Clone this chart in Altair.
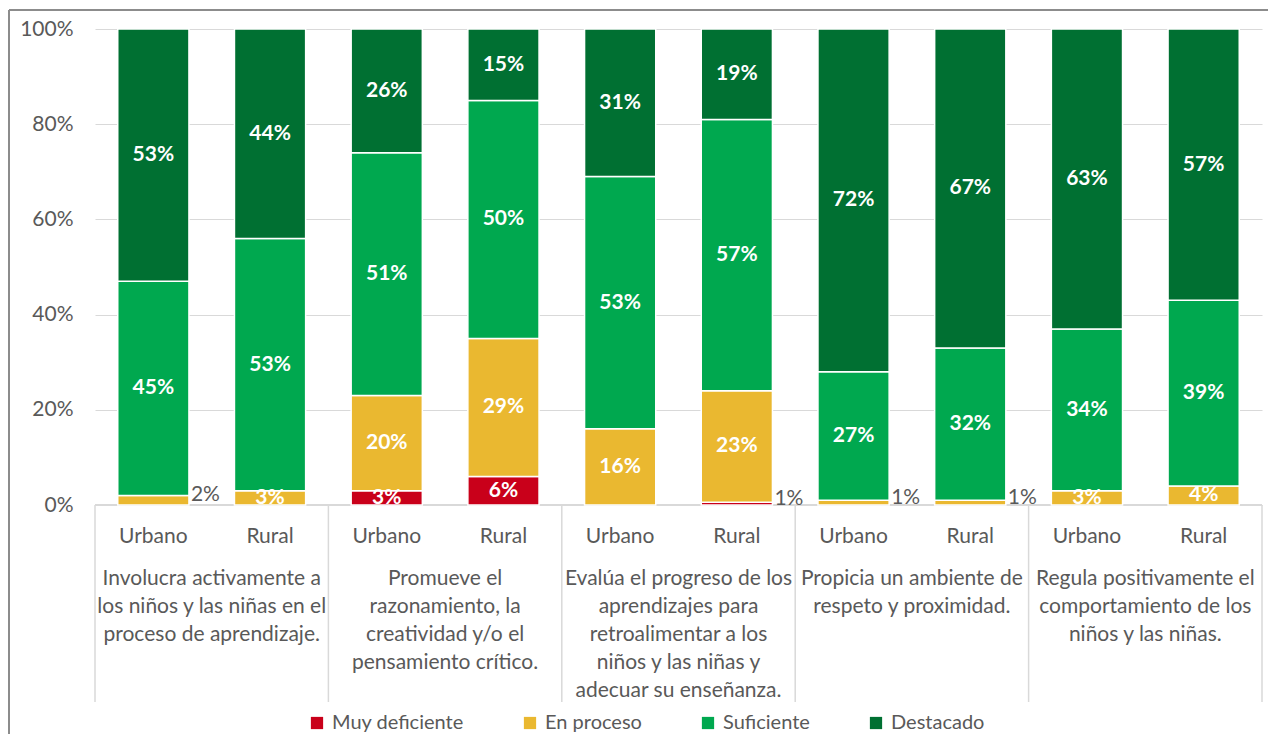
import altair as alt
import pandas as pd

# ---- data ----
group_labels = [
    ["Involucra activamente a", "los niños y las niñas en el", "proceso de aprendizaje."],
    ["Promueve el", "razonamiento, la", "creatividad y/o el", "pensamiento crítico."],
    ["Evalúa el progreso de los", "aprendizajes para", "retroalimentar a los", "niños y las niñas y", "adecuar su enseñanza."],
    ["Propicia un ambiente de", "respeto y proximidad."],
    ["Regula positivamente el", "comportamiento de los", "niños y las niñas."],
]
areas = ["Urbano", "Rural"]
series = ["Muy deficiente", "En proceso", "Suficiente", "Destacado"]
colors = ["#C9001A", "#EAB830", "#00A84F", "#007032"]

# one value per bar (Urbano, Rural for each group)
muy_deficiente = [0, 0, 3, 6, 0, 0.6, 0, 0, 0, 0]
en_proceso = [2, 3, 20, 29, 16, 23.4, 1, 1, 3, 4]
suficiente = [45, 53, 51, 50, 53, 57, 27, 32, 34, 39]
destacado = [53, 44, 26, 15, 31, 19, 72, 67, 63, 57]

values = [muy_deficiente, en_proceso, suficiente, destacado]

# ---- build tables ----
half_bar = 0.305
rows = []
cat_rows = []
for b in range(10):
    g, a = divmod(b, 2)
    center = b + 0.5
    cat_rows.append({"xc": center, "area": areas[a]})
    cum = 0.0
    for s, name in enumerate(series):
        v = values[s][b]
        if v <= 0:
            continue
        rows.append({
            "bar": b, "serie": name, "order": s, "v": v,
            "x0": center - half_bar, "x1": center + half_bar, "xc": center,
            "y0": cum, "y1": cum + v, "ym": cum + v / 2,
            "label": f"{round(v + 1e-9)}%",
            "inside": 1 if v >= 2.5 else 0,
        })
        cum += v
df = pd.DataFrame(rows)
cats = pd.DataFrame(cat_rows)
grp = pd.DataFrame({"xg": [2 * g + 1 for g in range(5)],
                    "txt": ["\n".join(l) for l in group_labels]})
divs = pd.DataFrame({"xd": [0, 2, 4, 6, 8, 10]})

W, H = 1167, 476
FONT = "Lato"
FS = 21
GRAY = "#595959"

xs = alt.Scale(domain=[0, 10], nice=False, zero=False)
ys = alt.Scale(domain=[0, 100], nice=False)
yaxis = alt.Axis(values=[0, 20, 40, 60, 80, 100], labelExpr="datum.value + '%'", title=None,
                 grid=True, gridColor="#D9D9D9", gridWidth=1.2, domain=False, ticks=False,
                 labelFont=FONT, labelFontSize=FS, labelColor=GRAY, labelPadding=22)

base = alt.Chart(df)

bars = base.mark_bar(stroke="white", strokeWidth=1.5).encode(
    x=alt.X("x0:Q", scale=xs, axis=None),
    x2="x1:Q",
    y=alt.Y("y0:Q", scale=ys, axis=yaxis),
    y2="y1:Q",
    color=alt.Color("serie:N", scale=alt.Scale(domain=series, range=colors),
                    legend=alt.Legend(title=None, orient="none", direction="horizontal",
                                      legendX=212, legendY=684, symbolType="square",
                                      symbolSize=150, symbolStrokeWidth=0,
                                      labelFont=FONT, labelFontSize=20, labelColor=GRAY,
                                      columnPadding=56, labelOffset=5)),
)

txt_in = base.transform_filter("datum.inside == 1").mark_text(
    color="white", fontWeight="bold", font=FONT, fontSize=FS, baseline="middle"
).encode(x=alt.X("xc:Q", scale=xs, axis=None), y=alt.Y("ym:Q", scale=ys, axis=yaxis),
         text="label:N")

txt_out = base.transform_filter("datum.inside == 0").mark_text(
    color=GRAY, font=FONT, fontSize=FS, align="left", baseline="middle", dx=2, dy=-5
).encode(x=alt.X("x1:Q", scale=xs, axis=None), y=alt.Y("ym:Q", scale=ys, axis=yaxis),
         text="label:N")

cat_txt = alt.Chart(cats).mark_text(
    color=GRAY, font=FONT, fontSize=FS, baseline="middle"
).encode(x=alt.X("xc:Q", scale=xs, axis=None), y=alt.value(H + 32), text="area:N")

grp_txt = alt.Chart(grp).mark_text(
    color=GRAY, font=FONT, fontSize=FS, baseline="top", lineBreak="\n", lineHeight=28
).encode(x=alt.X("xg:Q", scale=xs, axis=None), y=alt.value(H + 63), text="txt:N")

div_rules = alt.Chart(divs).mark_rule(color="#D9D9D9", strokeWidth=1.5).encode(
    x=alt.X("xd:Q", scale=xs, axis=None), y=alt.value(H), y2=alt.value(H + 197))

axis_line = alt.Chart(divs).mark_rule(color="#D9D9D9", strokeWidth=1.5).encode(
    x=alt.value(0), x2=alt.value(W), y=alt.value(H))

frame_left = alt.Chart(divs).mark_rule(color="#8C8C8C", strokeWidth=1.5).encode(
    x=alt.value(-86), y=alt.value(-19), y2=alt.value(H + 240))
frame_top = alt.Chart(divs).mark_rule(color="#8C8C8C", strokeWidth=1.5).encode(
    x=alt.value(-86), x2=alt.value(W + 20), y=alt.value(-19))

chart = alt.layer(
    frame_left, frame_top, div_rules, axis_line, bars, txt_in, txt_out, cat_txt, grp_txt
).properties(
    width=W, height=H,
    padding={"left": 87, "top": 21, "right": 6, "bottom": 229},
    autosize=alt.AutoSizeParams(type="none"),
).configure_view(stroke=None)

chart.save("out.html", embed_options={"renderer": "svg", "actions": False})
